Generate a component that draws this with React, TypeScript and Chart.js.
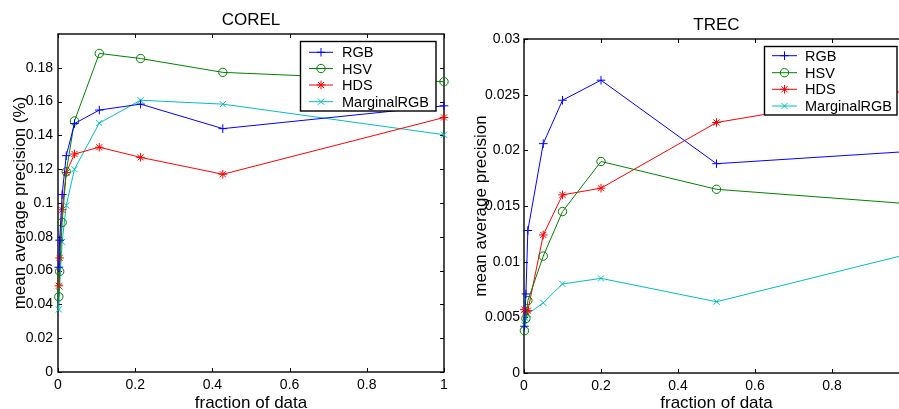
import React, { useEffect, useRef } from 'react';
import { Chart, registerables } from 'chart.js';

Chart.register(...registerables);

const FONT = '"Liberation Sans", Arial, Helvetica, sans-serif';

const seriesNames = ['RGB', 'HSV', 'HDS', 'MarginalRGB'];
const seriesColors = ['#0000ff', '#008000', '#ff0000', '#00bfbf'];
const seriesMarkers = ['cross', 'circle', 'star', 'crossRot'];

// COREL
const corelFractions = [0.0021, 0.0043, 0.0107, 0.0214, 0.0427, 0.107, 0.214, 0.427, 1];
const corelRGB = [0.062, 0.078, 0.105, 0.128, 0.147, 0.155, 0.1585, 0.144, 0.1575];
const corelHSV = [0.0445, 0.0595, 0.0885, 0.1185, 0.1485, 0.1885, 0.1855, 0.1773, 0.1718];
const corelHDS = [0.051, 0.0675, 0.096, 0.118, 0.129, 0.133, 0.127, 0.117, 0.1506];
const corelMarginalRGB = [0.037, 0.0505, 0.077, 0.0985, 0.12, 0.1473, 0.1608, 0.1585, 0.1404];
const corelYTicks = [0, 0.02, 0.04, 0.06, 0.08, 0.1, 0.12, 0.14, 0.16, 0.18];

// TREC
const trecFractions = [0.001, 0.005, 0.01, 0.05, 0.1, 0.2, 0.5, 1];
const trecRGB = [0.0042, 0.0071, 0.0128, 0.0206, 0.0245, 0.0263, 0.0188, 0.0199];
const trecHSV = [0.0038, 0.0049, 0.0065, 0.0105, 0.0145, 0.019, 0.0165, 0.0152];
const trecHDS = [0.0057, 0.0055, 0.0056, 0.0124, 0.016, 0.0166, 0.0225, 0.0254];
const trecMarginalRGB = [0.0043, 0.0049, 0.0053, 0.0063, 0.008, 0.0085, 0.0064, 0.0107];
const trecYTicks = [0, 0.005, 0.01, 0.015, 0.02, 0.025, 0.03];

const xTicks = [0, 0.2, 0.4, 0.6, 0.8, 1];

const fmt = (v: number) => String(parseFloat(Number(v).toFixed(4)));

function drawMarker(ctx: CanvasRenderingContext2D, style: string, x: number, y: number, r: number, color: string) {
  ctx.save();
  ctx.strokeStyle = color;
  ctx.lineWidth = 1;
  ctx.beginPath();
  const d = r * Math.SQRT1_2;
  if (style === 'cross' || style === 'star') {
    ctx.moveTo(x - r, y); ctx.lineTo(x + r, y);
    ctx.moveTo(x, y - r); ctx.lineTo(x, y + r);
  }
  if (style === 'crossRot' || style === 'star') {
    ctx.moveTo(x - d, y - d); ctx.lineTo(x + d, y + d);
    ctx.moveTo(x - d, y + d); ctx.lineTo(x + d, y - d);
  }
  if (style === 'circle') {
    ctx.arc(x, y, r, 0, Math.PI * 2);
  }
  ctx.stroke();
  ctx.restore();
}

const decorPlugin = {
  id: 'decor',
  beforeDatasetsDraw(chart: any, _args: any, opts: any) {
    const { ctx, chartArea: a, scales } = chart;
    ctx.save();
    ctx.strokeStyle = '#000';
    ctx.lineWidth = 1.4;
    ctx.strokeRect(a.left, a.top, a.right - a.left, a.bottom - a.top);
    ctx.lineWidth = 1;
    const tl = 4;
    ctx.beginPath();
    scales.x.ticks.forEach((t: any) => {
      const p = Math.round(scales.x.getPixelForValue(t.value)) + 0.5;
      ctx.moveTo(p, a.bottom); ctx.lineTo(p, a.bottom - tl);
      ctx.moveTo(p, a.top); ctx.lineTo(p, a.top + tl);
    });
    scales.y.ticks.forEach((t: any) => {
      const p = Math.round(scales.y.getPixelForValue(t.value)) + 0.5;
      ctx.moveTo(a.left, p); ctx.lineTo(a.left + tl, p);
      ctx.moveTo(a.right, p); ctx.lineTo(a.right - tl, p);
    });
    ctx.stroke();
    ctx.restore();
  },
  afterDatasetsDraw(chart: any, _args: any, opts: any) {
    const { ctx } = chart;
    const L = opts.legend;
    if (!L) return;
    ctx.save();
    ctx.fillStyle = '#fff';
    ctx.fillRect(L.x0, L.y0, L.x1 - L.x0, L.y1 - L.y0);
    ctx.strokeStyle = '#000';
    ctx.lineWidth = 1.4;
    ctx.strokeRect(L.x0, L.y0, L.x1 - L.x0, L.y1 - L.y0);
    chart.data.datasets.forEach((ds: any, i: number) => {
      const y = L.rows[i];
      ctx.strokeStyle = ds.borderColor;
      ctx.lineWidth = 1;
      ctx.beginPath();
      ctx.moveTo(L.lx0, y); ctx.lineTo(L.lx1, y);
      ctx.stroke();
      drawMarker(ctx, ds.pointStyle, (L.lx0 + L.lx1) / 2, y, ds.pointRadius, ds.borderColor);
      ctx.fillStyle = '#000';
      ctx.font = `14.5px ${FONT}`;
      ctx.textAlign = 'left';
      ctx.textBaseline = 'middle';
      ctx.fillText(ds.label, L.tx, y + 1);
    });
    ctx.restore();
  },
  afterDraw(chart: any, _args: any, opts: any) {
    const { ctx, chartArea: a } = chart;
    ctx.save();
    ctx.fillStyle = '#000';
    ctx.font = `17px ${FONT}`;
    ctx.textAlign = 'center';
    ctx.textBaseline = 'middle';
    const cx = (a.left + a.right) / 2;
    const cy = (a.top + a.bottom) / 2;
    ctx.fillText(opts.title, cx, opts.titleY);
    ctx.fillText(opts.xTitle, cx, opts.xTitleY);
    ctx.translate(opts.yTitleX, cy);
    ctx.rotate(-Math.PI / 2);
    ctx.fillText(opts.yTitle, 0, 0);
    ctx.restore();
  },
};

function makeDatasets(xs: number[], series: number[][]) {
  return series.map((vals, i) => ({
    label: seriesNames[i],
    data: xs.map((x, j) => ({ x, y: vals[j] })),
    borderColor: seriesColors[i],
    backgroundColor: 'rgba(0,0,0,0)',
    pointStyle: seriesMarkers[i],
    pointRadius: seriesMarkers[i] === 'circle' ? 4.2 : 4.3,
    pointBorderColor: seriesColors[i],
    pointBackgroundColor: 'rgba(0,0,0,0)',
    pointBorderWidth: 1,
    borderWidth: 1,
    tension: 0,
    clip: false as any,
  }));
}

function makeConfig(p: {
  xs: number[]; series: number[][]; yMax: number; yTicks: number[];
  yWidth: number; xHeight: number; padTop: number; padRight: number; yPad: number;
  title: string; titleY: number; yTitle: string; yTitleX: number; legend: any;
}): any {
  return {
    type: 'line',
    data: { datasets: makeDatasets(p.xs, p.series) },
    plugins: [decorPlugin],
    options: {
      responsive: false,
      animation: false,
      events: [],
      layout: { padding: { left: 0, top: p.padTop, right: p.padRight, bottom: 0 } },
      plugins: {
        legend: { display: false },
        title: { display: false },
        tooltip: { enabled: false },
        decor: {
          title: p.title,
          titleY: p.titleY,
          xTitle: 'fraction of data',
          xTitleY: 403,
          yTitle: p.yTitle,
          yTitleX: p.yTitleX,
          legend: p.legend,
        },
      },
      scales: {
        x: {
          type: 'linear',
          min: 0,
          max: 1,
          grid: { display: false, drawTicks: false },
          border: { display: false },
          ticks: {
            color: '#000',
            font: { family: FONT, size: 14 },
            padding: 5,
            maxRotation: 0,
            autoSkip: false,
            callback: (v: number) => fmt(v),
          },
          afterBuildTicks: (s: any) => { s.ticks = xTicks.map((v) => ({ value: v })); },
          afterFit: (s: any) => { s.height = p.xHeight; },
        },
        y: {
          type: 'linear',
          min: 0,
          max: p.yMax,
          grid: { display: false, drawTicks: false },
          border: { display: false },
          ticks: {
            color: '#000',
            font: { family: FONT, size: 14 },
            padding: p.yPad,
            autoSkip: false,
            callback: (v: number) => fmt(v),
          },
          afterBuildTicks: (s: any) => { s.ticks = p.yTicks.map((v) => ({ value: v })); },
          afterFit: (s: any) => { s.width = p.yWidth; },
        },
      },
    },
  };
}

export default function App() {
  const c1 = useRef<HTMLCanvasElement>(null);
  const c2 = useRef<HTMLCanvasElement>(null);

  useEffect(() => {
    const ch1 = new Chart(c1.current as HTMLCanvasElement, makeConfig({
      xs: corelFractions,
      series: [corelRGB, corelHSV, corelHDS, corelMarginalRGB],
      yMax: 0.2,
      yTicks: corelYTicks,
      yWidth: 58,
      xHeight: 37,
      padTop: 34,
      padRight: 16,
      yPad: 5,
      title: 'COREL',
      titleY: 20,
      yTitle: 'mean average precision (%)',
      yTitleX: 20,
      legend: { x0: 300.5, y0: 41.5, x1: 436, y1: 111, rows: [52.3, 68.5, 85, 101.7], lx0: 309, lx1: 333, tx: 342 },
    }));
    const ch2 = new Chart(c2.current as HTMLCanvasElement, makeConfig({
      xs: trecFractions,
      series: [trecRGB, trecHSV, trecHDS, trecMarginalRGB],
      yMax: 0.03,
      yTicks: trecYTicks,
      yWidth: 64,
      xHeight: 36,
      padTop: 39,
      padRight: 21,
      yPad: 4,
      title: 'TREC',
      titleY: 25,
      yTitle: 'mean average precision',
      yTitleX: 21,
      legend: { x0: 304.5, y0: 46.5, x1: 437, y1: 115, rows: [55.7, 72.7, 89.3, 106], lx0: 312, lx1: 337, tx: 345 },
    }));
    return () => { ch1.destroy(); ch2.destroy(); };
  }, []);

  return (
    <div style={{ position: 'fixed', left: 0, top: 0, width: 899, height: 409, overflow: 'hidden', background: '#fff' }}>
      <canvas ref={c1} width={460} height={409} style={{ position: 'absolute', left: 0, top: 0, width: 460, height: 409 }} />
      <canvas ref={c2} width={470} height={409} style={{ position: 'absolute', left: 460, top: 0, width: 470, height: 409 }} />
    </div>
  );
}
